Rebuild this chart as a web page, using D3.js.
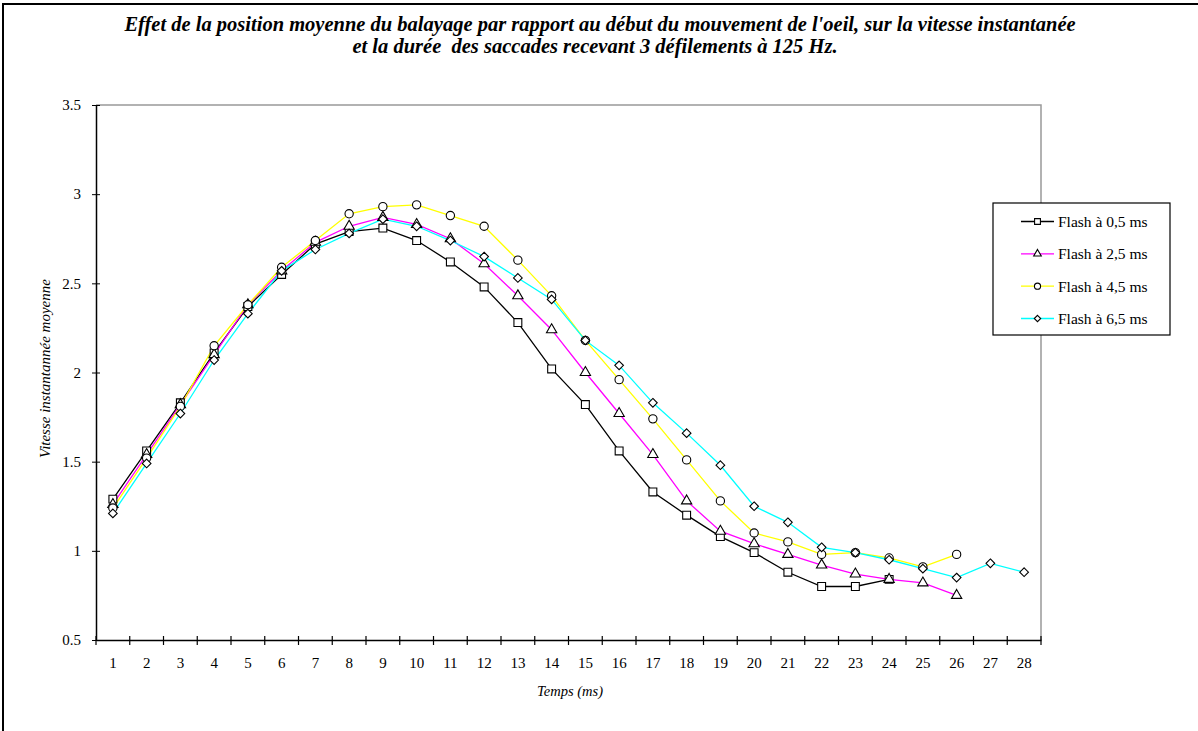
<!DOCTYPE html>
<html>
<head>
<meta charset="utf-8">
<script src="https://cdn.jsdelivr.net/npm/d3@7"></script>
<style>
  body { margin: 0; background: #fff; }
  svg text { font-family: "Liberation Serif", "Times New Roman", Times, "DejaVu Serif", serif !important; }
</style>
</head>
<body>
<svg width="1198" height="731"></svg>
<script>
// categories (temps en ms)
const temps = d3.range(1, 29).map(String);

const flash05 = [1.29, 1.56, 1.83, 2.11, 2.37, 2.55, 2.72, 2.79, 2.81, 2.74, 2.62, 2.48, 2.28, 2.02,
  1.82, 1.56, 1.33, 1.20, 1.08, 0.99, 0.88, 0.80, 0.80, 0.84];
const flash25 = [1.26, 1.54, 1.82, 2.10, 2.38, 2.57, 2.73, 2.82, 2.87, 2.83, 2.75, 2.61, 2.43, 2.24,
  2.00, 1.77, 1.54, 1.28, 1.11, 1.04, 0.98, 0.92, 0.87, 0.84, 0.82, 0.75];
const flash45 = [1.24, 1.52, 1.81, 2.15, 2.38, 2.59, 2.74, 2.89, 2.93, 2.94, 2.88, 2.82, 2.63, 2.43,
  2.18, 1.96, 1.74, 1.51, 1.28, 1.10, 1.05, 0.98, 0.99, 0.96, 0.91, 0.98];
const flash65 = [1.21, 1.49, 1.77, 2.07, 2.33, 2.57, 2.69, 2.78, 2.86, 2.82, 2.74, 2.65, 2.53, 2.41,
  2.18, 2.04, 1.83, 1.66, 1.48, 1.25, 1.16, 1.02, 0.99, 0.95, 0.90, 0.85, 0.93, 0.88];

const yTicks = [0.5, 1, 1.5, 2, 2.5, 3, 3.5];

const diamond = d3.symbolDiamond2 || d3.symbolDiamond;
const series = [
  { name: 'Flash à 0,5 ms', values: flash05, color: '#000000', symbol: d3.symbolSquare, size: 62 },
  { name: 'Flash à 2,5 ms', values: flash25, color: '#ff00ff', symbol: d3.symbolTriangle, size: 46 },
  { name: 'Flash à 4,5 ms', values: flash45, color: '#ffff00', symbol: d3.symbolCircle, size: 54 },
  { name: 'Flash à 6,5 ms', values: flash65, color: '#00ffff', symbol: diamond, size: 48 }
];

const svg = d3.select('svg');
const W = 1198, H = 731;

// cadre extérieur (coupé à droite et en bas)
svg.append('rect')
  .attr('x', 3).attr('y', 4)
  .attr('width', W + 10).attr('height', H + 10)
  .attr('fill', 'none').attr('stroke', '#000').attr('stroke-width', 2);

const plotL = 96, plotR = 1041, plotT = 105, plotB = 640;

const x = d3.scaleBand().domain(temps).range([plotL, plotR]);
const y = d3.scaleLinear().domain([0.5, 3.5]).range([plotB, plotT]);

// bord gris de la zone de tracé
svg.append('path')
  .attr('d', `M${plotL},${plotT}H${plotR}V${plotB}`)
  .attr('fill', 'none').attr('stroke', '#999').attr('stroke-width', 1.5);

// axe Y
const yAxis = svg.append('g')
  .attr('transform', `translate(${plotL},0)`)
  .call(d3.axisLeft(y).tickValues(yTicks).tickFormat(d => String(d)).tickSizeInner(4).tickSizeOuter(0).tickPadding(11));
yAxis.selectAll('.tick line').attr('x2', 4).attr('x1', -4);
yAxis.select('.domain').attr('stroke-width', 1.5);
yAxis.selectAll('text').attr('font-size', 15).attr('fill', '#000');

// axe X
const xAxis = svg.append('g')
  .attr('transform', `translate(0,${plotB})`)
  .call(d3.axisBottom(x).tickSize(0).tickPadding(17));
xAxis.select('.domain').attr('stroke-width', 1.5);
xAxis.selectAll('text').attr('font-size', 15).attr('fill', '#000');
xAxis.selectAll('.sep')
  .data([temps[0]].concat(temps))
  .join('line')
  .attr('class', 'sep')
  .attr('x1', (d, i) => i === 0 ? plotL : x(d) + x.bandwidth())
  .attr('x2', (d, i) => i === 0 ? plotL : x(d) + x.bandwidth())
  .attr('y1', -4).attr('y2', 5)
  .attr('stroke', '#000').attr('stroke-width', 1.2);

// séries
const line = d3.line()
  .x((d, i) => x(temps[i]) + x.bandwidth() / 2)
  .y(d => y(d));

series.forEach(s => {
  svg.append('path')
    .datum(s.values)
    .attr('d', line)
    .attr('fill', 'none')
    .attr('stroke', s.color)
    .attr('stroke-width', 1.3);
});

series.forEach(s => {
  svg.append('g').selectAll('path')
    .data(s.values)
    .join('path')
    .attr('transform', (d, i) => `translate(${x(temps[i]) + x.bandwidth() / 2},${y(d)})`)
    .attr('d', d3.symbol(s.symbol, s.size))
    .attr('fill', '#fff')
    .attr('stroke', '#000')
    .attr('stroke-width', 1.1);
});

// légende
const legend = svg.append('g');
legend.append('rect')
  .attr('x', 993).attr('y', 203)
  .attr('width', 177).attr('height', 132)
  .attr('fill', '#fff').attr('stroke', '#000').attr('stroke-width', 1.2);

const legY = d3.scalePoint().domain(series.map(s => s.name)).range([221.5, 318.5]);
series.forEach(s => {
  const g = legend.append('g').attr('transform', `translate(0,${legY(s.name)})`);
  g.append('line')
    .attr('x1', 1021).attr('x2', 1054)
    .attr('stroke', s.color).attr('stroke-width', 1.3);
  g.append('path')
    .attr('transform', 'translate(1037.5,0)')
    .attr('d', d3.symbol(s.symbol, s.size * 0.55))
    .attr('fill', '#fff').attr('stroke', '#000').attr('stroke-width', 1.1);
  g.append('text')
    .attr('x', 1058).attr('dy', '0.35em')
    .attr('font-size', 15.5)
    .text(s.name);
});

// titre
const title = svg.append('text')
  .attr('text-anchor', 'middle')
  .attr('font-size', 20.5)
  .attr('font-weight', 'bold')
  .attr('font-style', 'italic');
title.append('tspan').attr('x', 600).attr('y', 31)
  .text("Effet de la position moyenne du balayage par rapport au début du mouvement de l'oeil, sur la vitesse instantanée");
title.append('tspan').attr('x', 595).attr('y', 53).attr('xml:space', 'preserve')
  .text('et la durée  des saccades recevant 3 défilements à 125 Hz.');

// titres des axes
svg.append('text')
  .attr('transform', `translate(50,${(plotT + plotB) / 2 - 4}) rotate(-90)`)
  .attr('text-anchor', 'middle')
  .attr('font-size', 15)
  .attr('font-style', 'italic')
  .text('Vitesse instantannée moyenne');

svg.append('text')
  .attr('x', 570).attr('y', 696)
  .attr('text-anchor', 'middle')
  .attr('font-size', 14.5)
  .attr('font-style', 'italic')
  .text('Temps (ms)');
</script>
</body>
</html>
